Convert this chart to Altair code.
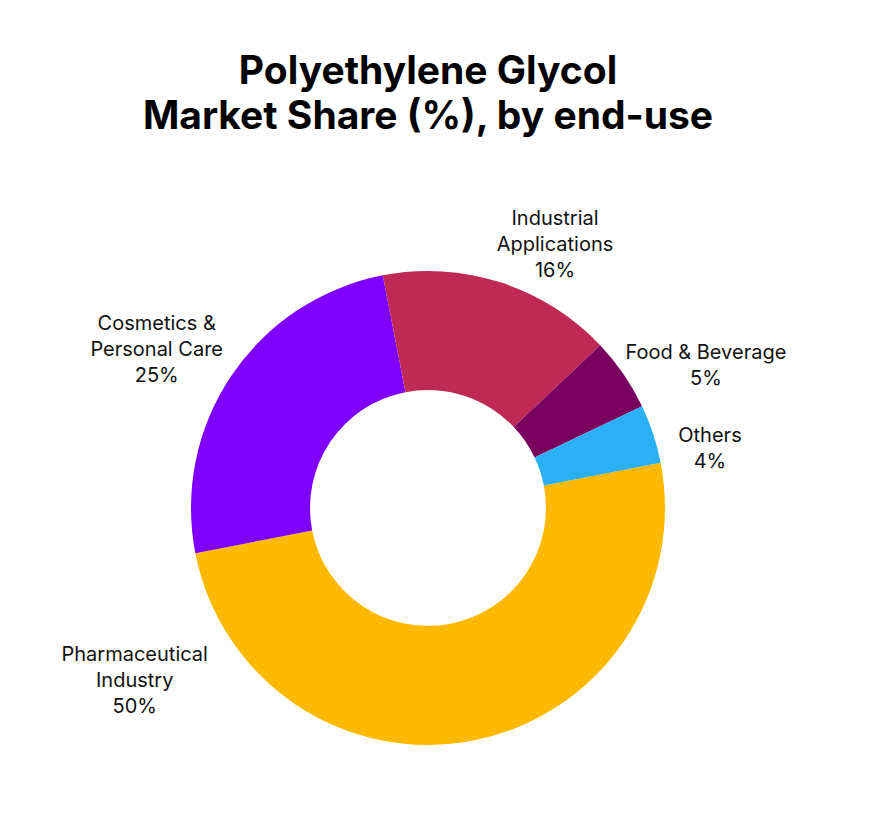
import math
import altair as alt
import pandas as pd

# ---- data ----
categories = ["Pharmaceutical Industry", "Cosmetics & Personal Care",
              "Industrial Applications", "Food & Beverage", "Others"]
shares = [50, 25, 16, 5, 4]
colors = ["#FDBA00", "#7F00FF", "#BE2A55", "#7A0060", "#2CB0F5"]
label_lines = [["Pharmaceutical", "Industry"], ["Cosmetics &", "Personal Care"],
               ["Industrial", "Applications"], ["Food & Beverage"], ["Others"]]
title_lines = ["Polyethylene Glycol", "Market Share (%), by end-use"]

# ---- label layout (first line: angle in degrees clockwise from 12 o'clock, distance from centre) ----
label_angle = [243.4, 304.2, 23.7, 60.9, 75.7]
label_dist = [328, 328, 316, 318, 291]

CX, CY = 420, 500
START = math.radians(79)

df = pd.DataFrame({
    "category": categories,
    "share": shares,
    "order": list(range(len(categories))),
})

lab = pd.DataFrame({
    "category": categories,
    "text": [lines + [f"{s}%"] for lines, s in zip(label_lines, shares)],
    "ang": label_angle,
    "dist": label_dist,
})

arcs = alt.Chart(df).mark_arc(radius=237, radius2=118).encode(
    theta=alt.Theta("share:Q", stack=True,
                    scale=alt.Scale(range=[START, START + 2 * math.pi])),
    color=alt.Color("category:N", scale=alt.Scale(domain=categories, range=colors),
                    legend=None),
    order=alt.Order("order:Q"),
    x=alt.value(CX),
    y=alt.value(CY),
)

labels = alt.Chart(lab).mark_text(
    font="Inter", fontSize=20, lineHeight=26, color="#111111",
    align="center", baseline="middle",
).encode(
    theta=alt.Theta("ang:Q", scale=alt.Scale(domain=[0, 360], range=[0, 2 * math.pi])),
    radius=alt.Radius("dist:Q", scale=alt.Scale(type="linear", domain=[0, 400],
                                                range=[0, 400], zero=True)),
    text="text",
    x=alt.value(CX),
    y=alt.value(CY),
)

tdf = pd.DataFrame({"t": [title_lines]})
title = alt.Chart(tdf).mark_text(
    font="Inter", fontSize=39, fontWeight="bold", lineHeight=45, color="#000000",
    align="center", baseline="middle",
).encode(text="t", x=alt.value(CX), y=alt.value(64))

chart = alt.layer(arcs, labels, title).resolve_scale(
    theta="independent", radius="independent"
).properties(
    width=860, height=812, autosize=alt.AutoSizeParams(type="none"), padding=0,
    background="white",
).configure_view(stroke=None)

chart.save("out.html", embed_options={"renderer": "svg", "actions": False})
